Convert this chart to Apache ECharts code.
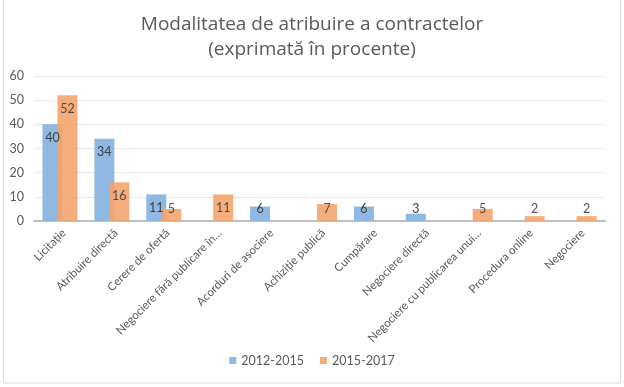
<!DOCTYPE html>
<html><head><meta charset="utf-8">
<script src="https://cdn.jsdelivr.net/npm/echarts@6/dist/echarts.min.js"></script>
<style>html,body{margin:0;padding:0;background:#fff}#c{width:624px;height:387px}</style>
</head><body><div id="c"></div>
<script>
const categories = ["Licitație","Atribuire directă","Cerere de ofertă","Negociere fără publicare în…","Acorduri de asociere","Achiziție publică","Cumpărare","Negociere directă","Negociere cu publicarea unui…","Procedura online","Negociere"];
const series2012 = [40,34,11,null,6,null,6,3,null,null,null];
const series2015 = [52,16,5,11,null,7,null,null,5,2,2];
const yTicks = [0,10,20,30,40,50,60];
const seriesNames = ["2012-2015","2015-2017"];

function toData(arr){
  return arr.map(v => v == null ? null : (v >= 11
    ? {value: v, label: {position: 'insideTop', distance: 7}}
    : {value: v, label: {position: 'insideBottom', distance: 6}}));
}
const chart = echarts.init(document.getElementById('c'));
const lbl = {show:true, color:'#404040', fontSize:12.5, fontFamily:'Lato'};
chart.setOption({
  animation:false,
  title:{text:'Modalitatea de atribuire a contractelor\n(exprimată în procente)', left:'center', top:7,
    textStyle:{fontFamily:'Open Sans', fontWeight:'normal', fontSize:19, color:'#595959', lineHeight:25}},
  graphic:[{type:'rect', shape:{x:3.5,y:-2,width:617,height:385}, style:{fill:null, stroke:'#D9D9D9', lineWidth:1}, silent:true}],
  legend:{bottom:15, left:'center', itemWidth:7, itemHeight:7, itemGap:16, icon:'rect',
    textStyle:{fontFamily:'Lato', fontSize:12.5, color:'#595959'}},
  grid:[{left:34, right:19, top:76, bottom:166, containLabel:false},
        {left:38, right:15, top:76, bottom:166, containLabel:false}],
  xAxis:[{type:'category', data:categories, gridIndex:0,
    axisLine:{lineStyle:{color:'#BFBFBF', width:2}}, axisTick:{show:false},
    axisLabel:{show:false}},
    {type:'category', data:categories, gridIndex:1,
    axisLine:{show:false}, axisTick:{show:false},
    axisLabel:{rotate:45, interval:0, fontFamily:'Lato', fontSize:11.5, color:'#595959', margin:10}}],
  yAxis:[{type:'value', min:0, max:60, interval:10, gridIndex:0,
    axisLine:{show:false}, axisTick:{show:false},
    axisLabel:{fontFamily:'Lato', fontSize:12.5, color:'#595959', margin:10},
    splitLine:{lineStyle:{color:'#E9E9E9'}}},
    {type:'value', min:0, max:60, interval:10, gridIndex:1, show:false}],
  series:[
    {name:seriesNames[0], type:'bar', data:toData(series2012), barWidth:20, barGap:'-25%', itemStyle:{color:'#8FB8E2'}, label:lbl},
    {name:seriesNames[1], type:'bar', data:toData(series2015), barWidth:20, itemStyle:{color:'#F4A46E', opacity:0.9}, label:lbl}
  ]
});
</script></body></html>
